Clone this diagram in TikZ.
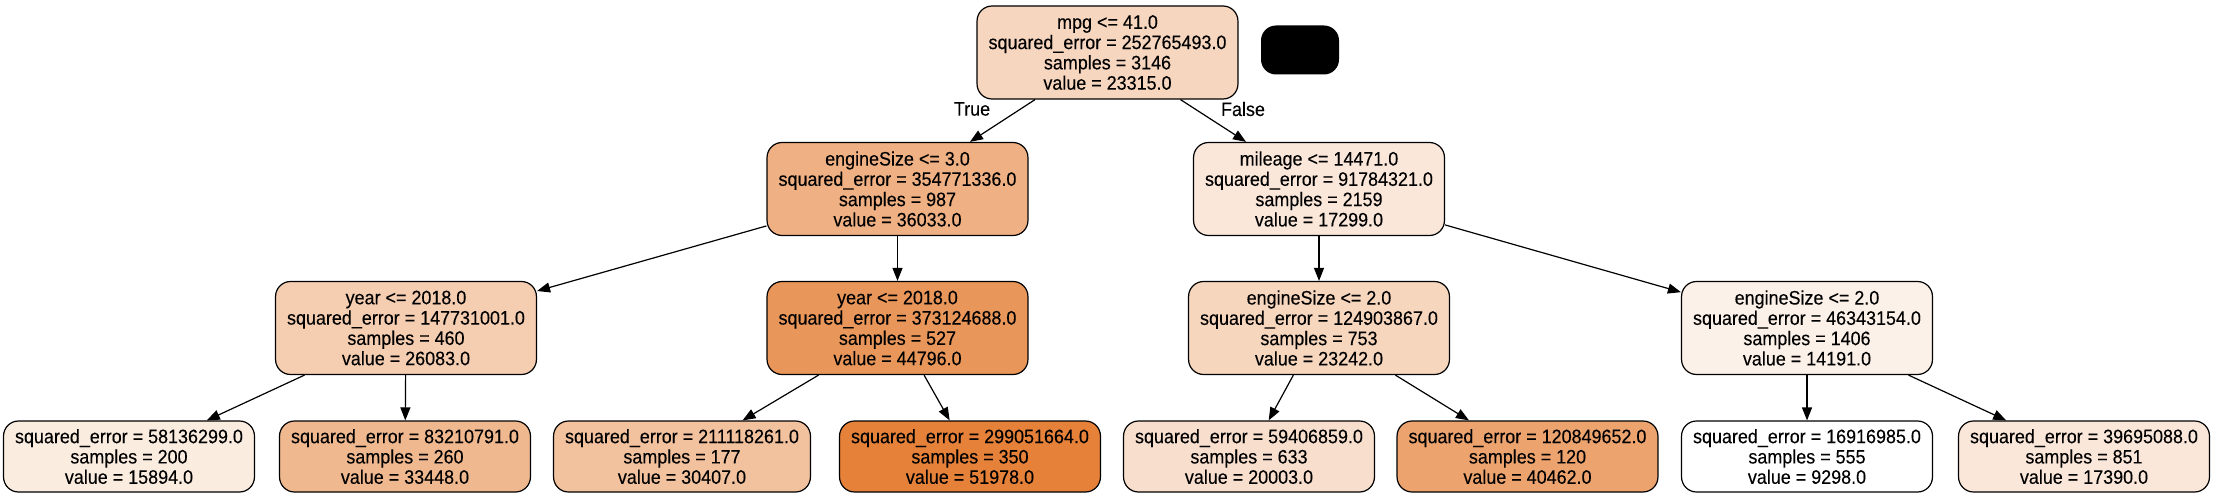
\documentclass[tikz,border=0pt]{standalone}
\usepackage{fontspec}
\setmainfont{Liberation Sans}[FakeStretch=0.92,FakeBold=0.15]
\usetikzlibrary{arrows.meta}
\definecolor{c0}{RGB}{246,214,190}
\definecolor{c1}{RGB}{239,176,131}
\definecolor{c8}{RGB}{250,231,218}
\definecolor{c2}{RGB}{245,205,177}
\definecolor{c5}{RGB}{233,150,90}
\definecolor{c9}{RGB}{247,214,190}
\definecolor{c12}{RGB}{252,241,232}
\definecolor{c3}{RGB}{251,236,224}
\definecolor{c4}{RGB}{240,184,143}
\definecolor{c6}{RGB}{242,193,157}
\definecolor{c7}{RGB}{229,129,57}
\definecolor{c10}{RGB}{248,223,205}
\definecolor{c11}{RGB}{236,163,110}
\definecolor{c13}{RGB}{255,255,255}
\definecolor{c14}{RGB}{250,231,217}
\begin{document}
\begin{tikzpicture}[x=1pt,y=-1pt,
  tnode/.style={draw=black, line width=1.2pt, rounded corners=15pt, align=center,
    inner xsep=11.5pt, inner ysep=0pt, font=\fontsize{19.5}{20.3}\selectfont},
  split/.style={tnode, minimum height=93pt},
  leaf/.style={tnode, minimum height=71pt},
  edge/.style={line width=1.2pt, -{Triangle[length=13pt,width=10pt]}},
  lbl/.style={font=\fontsize{19.5}{20.3}\selectfont, inner sep=0pt}]
\useasboundingbox (0,0) rectangle (2213,497);
\fill[white] (0,0) rectangle (2213,497);

\node[split, fill=c0] (n0) at (1107.5,52.5) {mpg <= 41.0\\squared\_error = 252765493.0\\samples = 3146\\value = 23315.0};
\node[draw=none, fill=black, rounded corners=15pt, minimum width=78pt, minimum height=49pt, inner sep=0pt] (blk) at (1300,50) {};

\node[split, fill=c1] (n1) at (897.5,189) {engineSize <= 3.0\\squared\_error = 354771336.0\\samples = 987\\value = 36033.0};
\node[split, fill=c8] (n8) at (1319,189) {mileage <= 14471.0\\squared\_error = 91784321.0\\samples = 2159\\value = 17299.0};

\node[split, fill=c2] (n2) at (406,328) {year <= 2018.0\\squared\_error = 147731001.0\\samples = 460\\value = 26083.0};
\node[split, fill=c5] (n5) at (897.5,328) {year <= 2018.0\\squared\_error = 373124688.0\\samples = 527\\value = 44796.0};
\node[split, fill=c9] (n9) at (1319,328) {engineSize <= 2.0\\squared\_error = 124903867.0\\samples = 753\\value = 23242.0};
\node[split, fill=c12] (n12) at (1807,328) {engineSize <= 2.0\\squared\_error = 46343154.0\\samples = 1406\\value = 14191.0};

\node[leaf, fill=c3] (n3) at (129,456.5) {squared\_error = 58136299.0\\samples = 200\\value = 15894.0};
\node[leaf, fill=c4] (n4) at (405,456.5) {squared\_error = 83210791.0\\samples = 260\\value = 33448.0};
\node[leaf, fill=c6] (n6) at (682,456.5) {squared\_error = 211118261.0\\samples = 177\\value = 30407.0};
\node[leaf, fill=c7] (n7) at (970,456.5) {squared\_error = 299051664.0\\samples = 350\\value = 51978.0};
\node[leaf, fill=c10] (n10) at (1249,456.5) {squared\_error = 59406859.0\\samples = 633\\value = 20003.0};
\node[leaf, fill=c11] (n11) at (1527.5,456.5) {squared\_error = 120849652.0\\samples = 120\\value = 40462.0};
\node[leaf, fill=c13] (n13) at (1807,456.5) {squared\_error = 16916985.0\\samples = 555\\value = 9298.0};
\node[leaf, fill=c14] (n14) at (2084,456.5) {squared\_error = 39695088.0\\samples = 851\\value = 17390.0};

\draw[edge] (n0) -- (n1);
\draw[edge] (n0) -- (n8);
\draw[edge] (n1) -- (n2);
\draw[edge] (n1) -- (n5);
\draw[edge] (n2) -- (n3);
\draw[edge] (n2) -- (n4);
\draw[edge] (n5) -- (n6);
\draw[edge] (n5) -- (n7);
\draw[edge] (n8) -- (n9);
\draw[edge] (n8) -- (n12);
\draw[edge] (n9) -- (n10);
\draw[edge] (n9) -- (n11);
\draw[edge] (n12) -- (n13);
\draw[edge] (n12) -- (n14);

\node[lbl] (ltrue) at (972,109) {True};
\node[lbl] (lfalse) at (1243,109) {False};
\end{tikzpicture}
\end{document}
